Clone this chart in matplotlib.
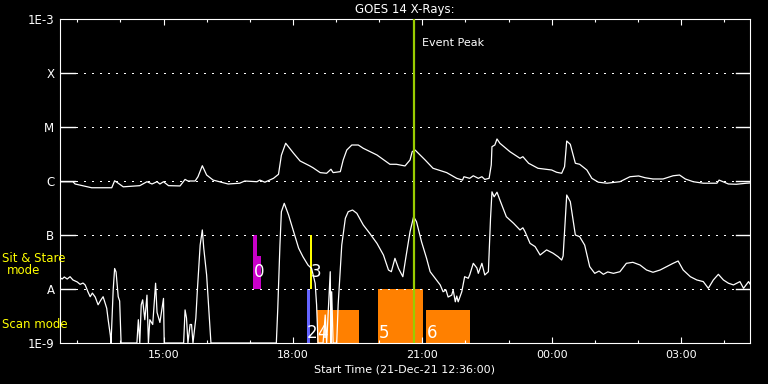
import pandas as pd
import matplotlib
matplotlib.use("Agg")
import matplotlib.pyplot as plt
import matplotlib.dates as mdates
import matplotlib.ticker as mticker

start = pd.Timestamp("2021-12-21 12:36:00")

# 1-8 A channel (upper curve): minutes after start, flux in W/m^2
long_min = [0, 18, 21, 44, 72, 76, 81, 88, 111, 121,
            128, 135, 139, 144, 151, 167, 174, 178, 188, 192,
            198, 204, 213, 227, 234, 250, 257, 274, 278, 285,
            297, 304, 308, 314, 325, 334, 347, 352, 362, 371,
            377, 380, 390, 394, 399, 406, 415, 422, 441, 459,
            468, 480, 487, 490, 494, 508, 519, 538, 552, 560,
            562, 570, 575, 582, 587, 591, 597, 600, 601, 605,
            608, 612, 626, 640, 644, 652, 665, 684, 691, 698,
            702, 705, 710, 717, 723, 733, 740, 749, 761, 779,
            793, 805, 814, 825, 839, 853, 862, 870, 881, 895,
            914, 917, 930, 941, 955, 960]
long_flux = [0.97, 0.97, 0.88, 0.75, 0.75, 1.01, 0.91, 0.78, 0.82, 0.97,
             0.88, 0.97, 0.88, 0.97, 0.82, 0.81, 1.07, 1.00, 1.00, 1.20,
             1.92, 1.29, 1.04, 0.93, 0.88, 0.91, 1.00, 0.97, 1.04, 0.95,
             1.12, 1.33, 3.0, 5.0, 3.26, 2.35, 1.92, 1.76, 1.43, 1.39,
             1.65, 1.43, 1.49, 2.45, 3.75, 4.64, 4.64, 4.03, 3.03, 2.04,
             2.04, 1.90, 2.45, 3.49, 3.75, 2.45, 1.72, 1.43, 1.12, 1.04,
             1.20, 1.12, 1.25, 1.12, 1.20, 1.07, 1.12, 1.98, 4.32, 4.64,
             6.0, 5.0, 3.49, 2.63, 2.82, 2.13, 1.72, 1.60, 1.45, 1.39,
             1.84, 5.5, 4.78, 2.13, 2.04, 1.60, 1.12, 0.95, 0.91, 0.97,
             1.20, 1.24, 1.15, 1.09, 1.09, 1.25, 1.29, 1.09, 0.97, 0.91,
             0.91, 1.04, 0.88, 0.87, 0.91, 0.92]  # x 1e-6

# 0.5-4 A channel (lower curve), 1.0 = floor of the plot
short_min = [0, 3, 6, 10, 14, 18, 24, 28, 32, 35,
             39, 42, 45, 49, 53, 57, 60, 65, 67, 70,
             71, 74, 76, 78, 81, 83, 85, 107, 109, 111,
             113, 115, 118, 121, 123, 125, 129, 133, 135, 139,
             144, 145, 172, 174, 176, 178, 181, 183, 185, 189,
             191, 195, 198, 200, 204, 207, 210, 301, 303, 306,
             308, 312, 318, 325, 332, 338, 345, 350, 355, 357,
             359, 366, 369, 371, 376, 377, 378, 380, 385, 387,
             392, 397, 401, 407, 413, 422, 431, 441, 450, 457,
             461, 466, 471, 477, 481, 487, 492, 496, 503, 510,
             515, 522, 529, 533, 537, 540, 545, 547, 550, 552,
             554, 559, 563, 568, 570, 575, 580, 582, 587, 591,
             596, 599, 601, 604, 608, 612, 621, 631, 640, 644,
             647, 654, 661, 668, 677, 686, 693, 698, 700, 705,
             710, 717, 723, 730, 737, 744, 750, 756, 762, 770,
             779, 788, 797, 807, 816, 825, 835, 844, 853, 860,
             867, 877, 886, 895, 902, 909, 916, 923, 930, 937,
             946, 951, 958, 960]
short_flux = [16.2, 15.3, 16.7, 15.3, 16.9, 14.7, 13.5, 12.2, 12.9, 11.9,
              8.8, 7.2, 8.4, 7.1, 5.1, 6.3, 7.2, 4.4, 2.7, 1.4,
              1.0, 9.6, 24, 20.7, 7.2, 6.0, 1.0, 1.0, 2.7, 1.0,
              5.1, 6.3, 2.7, 7.7, 1.0, 2.7, 2.2, 12.8, 3.7, 2.4,
              6.7, 1.0, 1.0, 4.1, 2.9, 1.0, 2.2, 2.2, 1.0, 2.9,
              8.9, 65, 124, 57, 18.2, 4.4, 1.0, 1.0, 4.4, 65,
              270, 386, 235, 115, 57, 39.6, 27.8, 24, 12.8, 5.1,
              1.0, 1.0, 3.3, 1.0, 20.9, 1.0, 8.9, 1.0, 1.0, 5.1,
              65, 204, 270, 290, 252, 153, 107, 70, 42.6, 22.5,
              20.9, 37, 24, 16.9, 37, 115, 218, 176, 75, 37,
              20.9, 15.8, 11.9, 8.9, 9.6, 7.1, 7.7, 9.6, 5.8, 7.4,
              5.8, 8.9, 16.9, 15.8, 18.2, 29.9, 24.5, 19.5, 29.9, 18.2,
              20.9, 204, 630, 510, 620, 445, 218, 165, 124, 136,
              115, 70, 61, 42.6, 53, 46, 39.6, 34.4, 41, 550,
              414, 100, 93, 65, 25.9, 19.5, 21.5, 18.7, 20.7, 19.5,
              20.9, 29.9, 31.2, 27.8, 22.5, 20.4, 22.5, 25.9, 29.9, 33,
              22.5, 16.9, 14.7, 13.7, 10.3, 14.7, 18.7, 14.7, 12.8, 11.9,
              13.7, 10.3, 13.7, 12.4]  # x 1e-9

level_vals = [1e-9, 1e-8, 1e-7, 1e-6, 1e-5, 1e-4, 1e-3]
level_names = ["1E-9", "A", "B", "C", "M", "X", "1E-3"]

# observation blocks
obs_start = ["17:05", "17:10", "18:24", "18:19", "18:34", "19:58", "21:05"]
obs_end = ["17:10", "17:16", "18:27", "18:24", "19:32", "21:01", "22:07"]
obs_low = [1e-8, 1e-8, 1e-8, 1e-9, 1e-9, 1e-9, 1e-9]
obs_high = [1e-7, 4.1e-8, 1e-7, 1e-8, 4.1e-9, 1e-8, 4.1e-9]
obs_color = ["#c800c8", "#c800c8", "#ffff00", "#6464ff", "#ff8000", "#ff8000", "#ff8000"]

lab_text = ["0", "3", "2", "4", "5", "6"]
lab_time = ["17:06", "18:25", "18:20", "18:34", "19:59", "21:06"]
lab_flux = [2.07e-8, 2.07e-8, 1.5e-9, 1.5e-9, 1.5e-9, 1.5e-9]

peak_time = "20:48"


def clock(hhmm):
    t = start.normalize() + pd.Timedelta(hhmm + ":00")
    if t < start:
        t += pd.Timedelta("1D")
    return t


t_long = start + pd.to_timedelta(long_min, unit="min")
t_short = start + pd.to_timedelta(short_min, unit="min")
f_long = [v * 1e-6 for v in long_flux]
f_short = [v * 1e-9 for v in short_flux]

fig = plt.figure(figsize=(7.68, 3.84), dpi=100, facecolor="black")
ax = fig.add_axes([60 / 768, 41 / 384, 690 / 768, 324 / 384], facecolor="black")
ax.set_yscale("log")
ax.set_ylim(1e-9, 1e-3)
ax.set_xlim(start, start + pd.Timedelta(hours=16))

for s, e, lo, hi, c in zip(obs_start, obs_end, obs_low, obs_high, obs_color):
    ax.fill_between([clock(s), clock(e)], [lo, lo], [hi, hi], color=c, lw=0, zorder=1)

ytr = ax.get_yaxis_transform()
for lv in level_vals[1:-1]:
    ax.axhline(lv, color="white", lw=1, ls=(0, (1, 5)), antialiased=False, zorder=1.5)
    ax.plot([0, 15 / 690], [lv, lv], color="white", lw=1, transform=ytr, zorder=1.5)
    ax.plot([1 - 14 / 690, 1], [lv, lv], color="white", lw=1, transform=ytr, zorder=1.5)

ax.plot(t_long, f_long, color="white", lw=0.9, zorder=3)
ax.plot(t_short, f_short, color="white", lw=0.9, zorder=3)

ax.axvline(clock(peak_time), color="#99cc00", lw=1.6, zorder=4)
ax.text(clock(peak_time) + pd.Timedelta(minutes=12), 10 ** -3.44, "Event Peak",
        color="white", fontsize=8, va="center", ha="left")

for txt, tm, fl in zip(lab_text, lab_time, lab_flux):
    ax.text(clock(tm), fl, txt, color="white", fontsize=12, ha="left", va="center", zorder=5)

ax.set_yticks(level_vals)
ax.set_yticklabels(level_names)
ax.yaxis.set_minor_locator(mticker.NullLocator())
ax.tick_params(axis="y", length=0, pad=4, labelcolor="white", labelsize=8.5)

ax.xaxis.set_major_locator(mdates.HourLocator(byhour=range(0, 24, 3)))
ax.xaxis.set_minor_locator(mdates.HourLocator())
ax.xaxis.set_major_formatter(mdates.DateFormatter("%H:%M"))
ax.tick_params(axis="x", which="both", direction="in", top=True, color="white",
               labelcolor="white", labelsize=8, width=0.8, pad=5)
ax.tick_params(axis="x", which="major", length=4.5)
ax.tick_params(axis="x", which="minor", length=2.5)

for sp in ax.spines.values():
    sp.set_color("white")
    sp.set_linewidth(0.8)

fig.text(405 / 768, 1 - 9 / 384, "GOES 14 X-Rays:", color="white", fontsize=8.5,
         ha="center", va="center")
fig.text(405 / 768, 1 - 370 / 384, "Start Time (21-Dec-21 12:36:00)", color="white",
         fontsize=8, ha="center", va="center")
fig.text(2 / 768, 1 - 259 / 384, "Sit & Stare", color="#ffff00", fontsize=8.5,
         ha="left", va="center")
fig.text(24 / 768, 1 - 271 / 384, "mode", color="#ffff00", fontsize=8.5,
         ha="center", va="center")
fig.text(2 / 768, 1 - 324 / 384, "Scan mode", color="#ffff00", fontsize=8.5,
         ha="left", va="center")

fig.savefig("out.png", dpi=100, facecolor="black")
